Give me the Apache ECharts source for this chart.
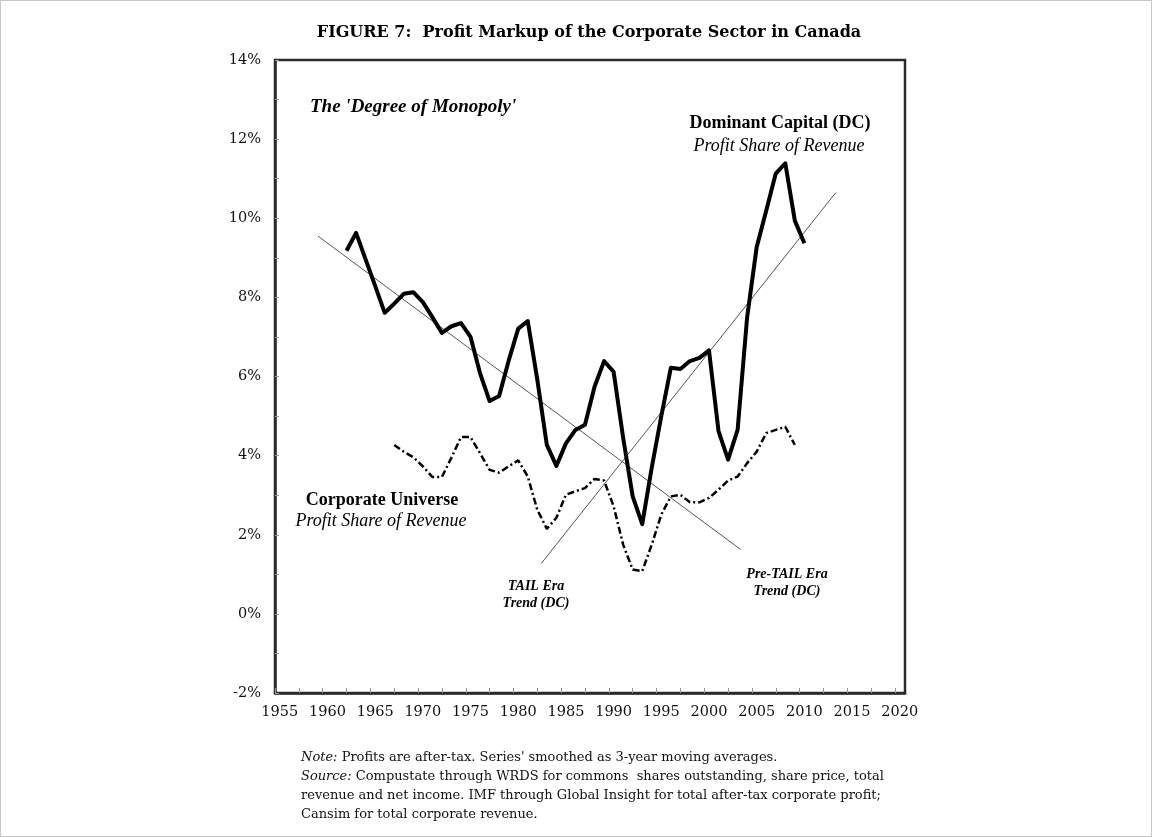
<!DOCTYPE html>
<html>
<head>
<meta charset="utf-8">
<script src="https://cdn.jsdelivr.net/npm/echarts@6/dist/echarts.min.js"></script>
<style>
    html, body { margin: 0; padding: 0; background: #fff; }
    #chart { width: 1152px; height: 837px; box-sizing: border-box; border: 1px solid #c8c8c8; }
</style>
</head>
<body>
<div id="chart"></div>
<script>
    // 数据 (profit share of revenue, %)
    var dcYears = [1962, 1963, 1964, 1965, 1966, 1967, 1968, 1969, 1970, 1971, 1972, 1973, 1974, 1975,
        1976, 1977, 1978, 1979, 1980, 1981, 1982, 1983, 1984, 1985, 1986, 1987, 1988, 1989, 1990,
        1991, 1992, 1993, 1994, 1995, 1996, 1997, 1998, 1999, 2000, 2001, 2002, 2003, 2004, 2005,
        2006, 2007, 2008, 2009, 2010];
    var dcValues = [9.18, 9.63, 8.96, 8.29, 7.61, 7.84, 8.09, 8.13, 7.88, 7.50, 7.10, 7.27, 7.35, 7.00,
        6.08, 5.38, 5.51, 6.40, 7.21, 7.40, 5.92, 4.27, 3.74, 4.31, 4.65, 4.78, 5.74, 6.39, 6.12,
        4.45, 2.97, 2.27, 3.70, 5.00, 6.22, 6.19, 6.39, 6.47, 6.66, 4.62, 3.90, 4.65, 7.50, 9.27,
        10.19, 11.13, 11.39, 9.94, 9.37];

    var cuYears = [1967, 1968, 1969, 1970, 1971, 1972, 1973, 1974, 1975, 1976, 1977, 1978, 1979, 1980,
        1981, 1982, 1983, 1984, 1985, 1986, 1987, 1988, 1989, 1990, 1991, 1992, 1993, 1994, 1995,
        1996, 1997, 1998, 1999, 2000, 2001, 2002, 2003, 2004, 2005, 2006, 2007, 2008, 2009];
    var cuValues = [4.27, 4.10, 3.96, 3.73, 3.46, 3.46, 3.95, 4.47, 4.47, 4.06, 3.64, 3.57, 3.73, 3.88,
        3.47, 2.63, 2.15, 2.43, 3.01, 3.10, 3.18, 3.41, 3.37, 2.72, 1.75, 1.12, 1.08, 1.75, 2.51,
        2.97, 3.01, 2.82, 2.82, 2.93, 3.14, 3.37, 3.47, 3.81, 4.10, 4.57, 4.65, 4.73, 4.27];

    // trend lines (DC), [year, value]
    var preTailTrend = [[1959, 9.55], [2003.3, 1.63]];
    var tailTrend = [[1982.4, 1.27], [2013.3, 10.65]];

    var xLabelYears = [1955, 1960, 1965, 1970, 1975, 1980, 1985, 1990, 1995, 2000, 2005, 2010, 2015, 2020];
    var xTickYears = [1954.5, 1957, 1959.5, 1962, 1964.5, 1967, 1969.5, 1972, 1974.5, 1977, 1979.5,
        1982, 1984.5, 1987, 1989.5, 1992, 1994.5, 1997, 1999.5, 2002, 2004.5, 2007, 2009.5, 2012,
        2014.5, 2017, 2019.5];

    function pairs(xs, ys) {
        return xs.map(function (x, i) { return [x, ys[i]]; });
    }

    var serif = '"Liberation Serif", "Times New Roman", serif';
    var cambria = '"DejaVu Serif", serif';

    var chart = echarts.init(document.getElementById('chart'));

    var option = {
        backgroundColor: '#fff',
        animation: false,
        grid: {
            left: 274, right: 246, top: 59, bottom: 143,
            show: true, borderColor: '#2b2b2b', borderWidth: 2.5, backgroundColor: 'transparent'
        },
        xAxis: {
            type: 'value',
            min: 1954.5, max: 2020.55,
            axisLine: { show: true, onZero: false, lineStyle: { color: '#2b2b2b', width: 2.5 } },
            axisTick: { show: true, inside: true, length: 5, customValues: xTickYears, lineStyle: { color: '#999', width: 1 } },
            axisLabel: {
                customValues: xLabelYears, margin: 12,
                formatter: function (v) { return String(v); },
                fontFamily: cambria, fontSize: 14.5, color: '#111'
            },
            splitLine: { show: false }
        },
        yAxis: {
            type: 'value',
            min: -2, max: 14, interval: 2,
            axisLine: { show: true, onZero: false, lineStyle: { color: '#2b2b2b', width: 2.5 } },
            axisTick: { show: true, inside: true, length: 4, lineStyle: { color: '#999', width: 1 } },
            minorTick: { show: true, splitNumber: 2, length: 4, lineStyle: { color: '#999', width: 1 } },
            axisLabel: {
                formatter: '{value}%', margin: 14,
                fontFamily: cambria, fontSize: 14.5, color: '#111'
            },
            splitLine: { show: false }
        },
        series: [
            {
                name: 'Pre-TAIL Era Trend (DC)', type: 'line', data: preTailTrend,
                symbol: 'none', silent: true,
                lineStyle: { color: '#555', width: 1 }
            },
            {
                name: 'TAIL Era Trend (DC)', type: 'line', data: tailTrend,
                symbol: 'none', silent: true,
                lineStyle: { color: '#555', width: 1 }
            },
            {
                name: 'Corporate Universe', type: 'line', data: pairs(cuYears, cuValues),
                symbol: 'none',
                lineStyle: { color: '#000', width: 2.5, type: [7, 3, 2, 3] }
            },
            {
                name: 'Dominant Capital (DC)', type: 'line', data: pairs(dcYears, dcValues),
                symbol: 'none',
                lineStyle: { color: '#000', width: 4, join: 'round' }
            }
        ],
        graphic: [
            {
                type: 'text', x: 588, y: 32,
                style: {
                    text: 'FIGURE 7:  Profit Markup of the Corporate Sector in Canada',
                    fontFamily: cambria, fontWeight: 'bold', fontSize: 16, fill: '#000',
                    align: 'center', verticalAlign: 'middle'
                }
            },
            {
                type: 'text', x: 309, y: 106,
                style: {
                    text: "The 'Degree of Monopoly'",
                    fontFamily: serif, fontWeight: 'bold', fontStyle: 'italic', fontSize: 19, fill: '#000',
                    align: 'left', verticalAlign: 'middle'
                }
            },
            {
                type: 'text', x: 779, y: 122,
                style: {
                    text: 'Dominant Capital (DC)',
                    fontFamily: serif, fontWeight: 'bold', fontSize: 18, fill: '#000',
                    align: 'center', verticalAlign: 'middle'
                }
            },
            {
                type: 'text', x: 778, y: 145,
                style: {
                    text: 'Profit Share of Revenue',
                    fontFamily: serif, fontStyle: 'italic', fontSize: 18, fill: '#000',
                    align: 'center', verticalAlign: 'middle'
                }
            },
            {
                type: 'text', x: 381, y: 499,
                style: {
                    text: 'Corporate Universe',
                    fontFamily: serif, fontWeight: 'bold', fontSize: 18, fill: '#000',
                    align: 'center', verticalAlign: 'middle'
                }
            },
            {
                type: 'text', x: 380, y: 520,
                style: {
                    text: 'Profit Share of Revenue',
                    fontFamily: serif, fontStyle: 'italic', fontSize: 18, fill: '#000',
                    align: 'center', verticalAlign: 'middle'
                }
            },
            {
                type: 'text', x: 535, y: 577,
                style: {
                    text: 'TAIL Era\nTrend (DC)', lineHeight: 17,
                    fontFamily: serif, fontWeight: 'bold', fontStyle: 'italic', fontSize: 14, fill: '#000',
                    align: 'center', verticalAlign: 'top'
                }
            },
            {
                type: 'text', x: 786, y: 565,
                style: {
                    text: 'Pre-TAIL Era\nTrend (DC)', lineHeight: 17,
                    fontFamily: serif, fontWeight: 'bold', fontStyle: 'italic', fontSize: 14, fill: '#000',
                    align: 'center', verticalAlign: 'top'
                }
            },
            {
                type: 'text', x: 300, y: 757,
                style: {
                    text: "{i|Note:} Profits are after-tax. Series' smoothed as 3-year moving averages.",
                    fontFamily: cambria, fontSize: 13, fill: '#111', verticalAlign: 'middle',
                    rich: { i: { fontFamily: cambria, fontSize: 13, fontStyle: 'italic', fill: '#111' } }
                }
            },
            {
                type: 'text', x: 300, y: 776,
                style: {
                    text: '{i|Source:} Compustate through WRDS for commons  shares outstanding, share price, total',
                    fontFamily: cambria, fontSize: 13, fill: '#111', verticalAlign: 'middle',
                    rich: { i: { fontFamily: cambria, fontSize: 13, fontStyle: 'italic', fill: '#111' } }
                }
            },
            {
                type: 'text', x: 300, y: 795,
                style: {
                    text: 'revenue and net income. IMF through Global Insight for total after-tax corporate profit;',
                    fontFamily: cambria, fontSize: 13, fill: '#111', verticalAlign: 'middle'
                }
            },
            {
                type: 'text', x: 300, y: 814,
                style: {
                    text: 'Cansim for total corporate revenue.',
                    fontFamily: cambria, fontSize: 13, fill: '#111', verticalAlign: 'middle'
                }
            }
        ]
    };

    chart.setOption(option);
</script>
</body>
</html>
